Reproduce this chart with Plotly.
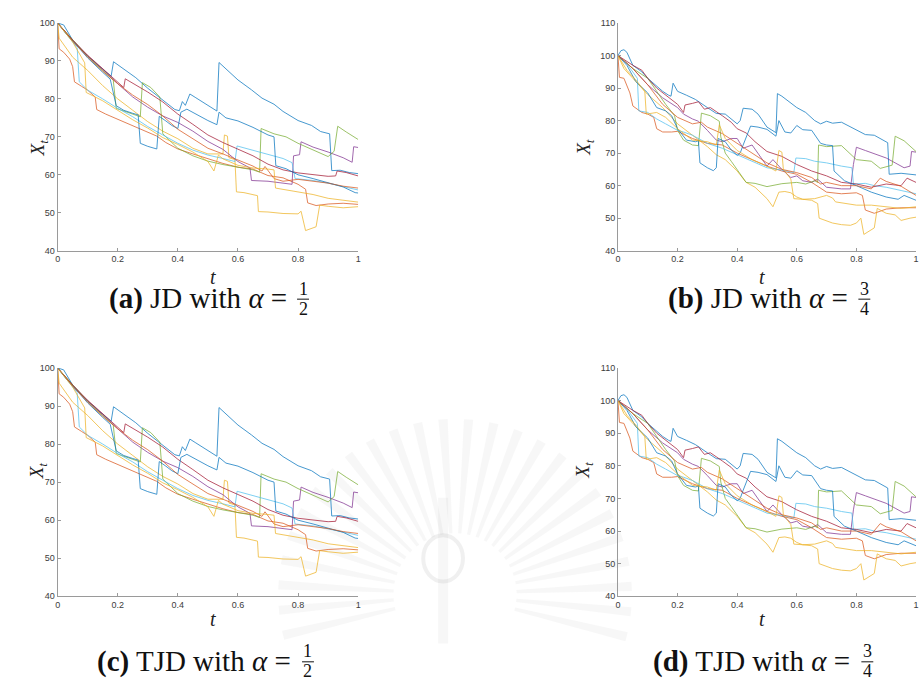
import math
import plotly.graph_objects as go

# MATLAB default colour order (10 paths per panel)
COLORS = ["#0072BD", "#D95319", "#EDB120", "#7E2F8E", "#77AC30",
          "#4DBEEE", "#A2142F", "#0072BD", "#D95319", "#EDB120"]

# ---------- alpha = 1/2 paths (panels a and c) ----------
half_t = [
    [0, 0.02, 0.05, 0.1, 0.15, 0.178, 0.186, 0.22, 0.26, 0.3, 0.35, 0.39, 0.405, 0.415, 0.425, 0.44, 0.46, 0.5, 0.53, 0.537, 0.56, 0.6, 0.645, 0.68, 0.72, 0.75, 0.8, 0.845, 0.875, 0.905, 0.912, 0.94, 0.97, 1.0],
    [0, 0.005, 0.02, 0.04, 0.05, 0.056, 0.08, 0.1, 0.125, 0.13, 0.16, 0.2, 0.25, 0.3, 0.33, 0.36, 0.4, 0.45, 0.5, 0.55, 0.6, 0.65, 0.7, 0.75, 0.8, 0.825, 0.832, 0.86, 0.9, 0.95, 1.0],
    [0, 0.005, 0.05, 0.1, 0.15, 0.2, 0.25, 0.3, 0.35, 0.4, 0.45, 0.5, 0.55, 0.555, 0.565, 0.57, 0.59, 0.595, 0.62, 0.65, 0.665, 0.668, 0.7, 0.75, 0.8, 0.81, 0.825, 0.86, 0.872, 0.9, 0.95, 1.0],
    [0, 0.05, 0.1, 0.15, 0.2, 0.25, 0.3, 0.35, 0.4, 0.45, 0.5, 0.55, 0.6, 0.64, 0.645, 0.7, 0.75, 0.78, 0.785, 0.805, 0.81, 0.85, 0.9, 0.95, 0.98, 0.985, 1.0],
    [0, 0.05, 0.1, 0.15, 0.185, 0.195, 0.22, 0.25, 0.275, 0.282, 0.31, 0.34, 0.35, 0.38, 0.4, 0.45, 0.5, 0.55, 0.6, 0.65, 0.672, 0.677, 0.72, 0.76, 0.8, 0.85, 0.9, 0.92, 0.932, 0.96, 1.0],
    [0, 0.03, 0.065, 0.072, 0.1, 0.15, 0.2, 0.25, 0.3, 0.35, 0.4, 0.45, 0.5, 0.55, 0.59, 0.597, 0.65, 0.7, 0.75, 0.78, 0.79, 0.85, 0.9, 0.95, 1.0],
    [0, 0.05, 0.1, 0.15, 0.2, 0.22, 0.225, 0.25, 0.3, 0.35, 0.4, 0.45, 0.5, 0.55, 0.6, 0.65, 0.7, 0.75, 0.8, 0.85, 0.9, 0.925, 0.93, 0.96, 1.0],
    [0, 0.03, 0.07, 0.1, 0.15, 0.175, 0.195, 0.22, 0.25, 0.268, 0.275, 0.3, 0.33, 0.338, 0.36, 0.38, 0.4, 0.41, 0.43, 0.46, 0.5, 0.53, 0.537, 0.56, 0.6, 0.65, 0.7, 0.72, 0.726, 0.76, 0.8, 0.85, 0.9, 0.95, 0.99, 1.0],
    [0, 0.05, 0.1, 0.15, 0.2, 0.25, 0.3, 0.35, 0.4, 0.45, 0.5, 0.55, 0.6, 0.65, 0.68, 0.69, 0.72, 0.75, 0.8, 0.85, 0.9, 0.95, 1.0],
    [0, 0.05, 0.09, 0.095, 0.15, 0.2, 0.25, 0.3, 0.35, 0.4, 0.45, 0.5, 0.52, 0.535, 0.55, 0.6, 0.65, 0.7, 0.72, 0.725, 0.8, 0.85, 0.9, 0.95, 1.0],
]
half_x = [
    [100, 99.5, 95.5, 91.3, 87.8, 86.0, 89.8, 87.8, 85.6, 82.8, 79.6, 77.2, 76.9, 79.3, 78.3, 81.3, 80.3, 78.4, 76.8, 89.6, 88.0, 85.0, 82.4, 80.2, 78.6, 76.7, 74.3, 73.0, 71.4, 70.8, 61.1, 61.2, 60.6, 60.3],
    [100, 93.2, 92.3, 90.5, 88.5, 84.5, 83.3, 82.3, 80.5, 77.2, 76.0, 74.6, 73.0, 71.2, 70.2, 68.5, 66.8, 65.5, 64.2, 63.0, 62.0, 61.5, 59.8, 59.2, 57.5, 56.2, 52.6, 51.9, 52.3, 52.5, 52.2],
    [100, 96, 91, 87.5, 83.5, 80, 77, 74, 71.5, 69.5, 67, 65.5, 65.5, 70.5, 70.2, 64.5, 64, 55.5, 55.3, 54.8, 54.5, 50.3, 50.2, 49.8, 49.7, 50.4, 45.3, 46.3, 52, 51.7, 51.3, 51.6],
    [100, 95.3, 91.3, 87.8, 84, 80.5, 77.8, 75.5, 73.8, 71.5, 68.8, 66.7, 63.5, 61.8, 58.5, 58.3, 57.8, 57.5, 65, 65.3, 68.7, 67.3, 66, 64.5, 63.3, 67.4, 67.2],
    [100, 95.5, 91.2, 87.5, 85, 77.5, 76.8, 75.8, 75.3, 84.3, 83, 80.5, 70.8, 68.5, 67, 65, 63.6, 62.7, 62, 61.3, 60.7, 72.2, 70.8, 70, 68.3, 66.5, 64.8, 66.2, 72.8, 71.3, 69.3],
    [100, 97, 93.5, 84.5, 82.3, 80, 77.5, 75.3, 72.7, 70.5, 68.3, 66.5, 65.2, 64.3, 63.5, 67.6, 66.5, 65.3, 64.3, 63.2, 59, 58.5, 57.8, 56.9, 56],
    [100, 95.5, 91.5, 88, 84.3, 83, 85.3, 84.2, 81.8, 79.2, 76, 73.3, 70.5, 68.5, 66.8, 65, 62.8, 61.3, 60.5, 60, 59.6, 59.7, 61.0, 60.6, 59.7],
    [100, 97, 93.5, 90.8, 87, 85.2, 78.2, 77, 76.2, 75.8, 68.3, 67.5, 66.8, 75.4, 74.2, 73, 72.2, 76.5, 77.3, 76, 74.3, 73.2, 76.5, 75, 74.2, 72.5, 70.5, 70, 62.4, 61.6, 60, 59, 58, 56.8, 55.3, 55.2],
    [100, 95.3, 91, 87.3, 84, 81, 78.5, 75.5, 72, 69.5, 67, 65.5, 64, 62.3, 61, 62.2, 59, 58.3, 58.8, 58.3, 57.8, 57, 56.5],
    [100, 95, 89.5, 81.7, 79.5, 77, 74.5, 72.3, 69.8, 68, 66, 63.5, 61, 65.2, 64.2, 62.5, 61.8, 61.5, 61.3, 56.5, 55.6, 54.8, 53.8, 53.2, 52.8],
]

# ---------- alpha = 3/4 paths (panels b and d) ----------
tq_t = [
    [0, 0.01, 0.02, 0.03, 0.05, 0.08, 0.1, 0.13, 0.15, 0.17, 0.178, 0.185, 0.2, 0.23, 0.26, 0.3, 0.33, 0.36, 0.38, 0.4, 0.41, 0.42, 0.45, 0.47, 0.5, 0.53, 0.535, 0.55, 0.6, 0.63, 0.66, 0.68, 0.7, 0.72, 0.75, 0.8, 0.83, 0.86, 0.88, 0.9, 0.905, 0.91, 0.95, 1.0],
    [0, 0.005, 0.02, 0.04, 0.05, 0.08, 0.1, 0.12, 0.13, 0.15, 0.18, 0.2, 0.25, 0.3, 0.35, 0.4, 0.45, 0.5, 0.55, 0.6, 0.65, 0.7, 0.75, 0.8, 0.82, 0.83, 0.86, 0.9, 0.95, 1.0],
    [0, 0.02, 0.05, 0.1, 0.15, 0.2, 0.25, 0.3, 0.33, 0.36, 0.4, 0.43, 0.46, 0.5, 0.52, 0.54, 0.56, 0.58, 0.6, 0.62, 0.65, 0.67, 0.675, 0.72, 0.75, 0.78, 0.8, 0.815, 0.825, 0.85, 0.86, 0.87, 0.9, 0.93, 0.95, 0.98, 1.0],
    [0, 0.05, 0.1, 0.15, 0.2, 0.22, 0.25, 0.27, 0.3, 0.33, 0.35, 0.38, 0.4, 0.42, 0.45, 0.5, 0.52, 0.55, 0.58, 0.6, 0.62, 0.65, 0.67, 0.7, 0.75, 0.78, 0.79, 0.8, 0.83, 0.86, 0.9, 0.93, 0.96, 0.98, 0.985, 1.0],
    [0, 0.05, 0.1, 0.13, 0.16, 0.19, 0.2, 0.22, 0.25, 0.27, 0.28, 0.31, 0.34, 0.345, 0.36, 0.38, 0.41, 0.43, 0.46, 0.5, 0.55, 0.6, 0.63, 0.66, 0.67, 0.673, 0.7, 0.75, 0.8, 0.85, 0.88, 0.91, 0.92, 0.93, 0.96, 1.0],
    [0, 0.03, 0.065, 0.07, 0.1, 0.13, 0.16, 0.2, 0.22, 0.25, 0.3, 0.35, 0.4, 0.45, 0.5, 0.55, 0.59, 0.597, 0.63, 0.66, 0.7, 0.75, 0.785, 0.79, 0.83, 0.86, 0.9, 0.95, 1.0],
    [0, 0.05, 0.08, 0.1, 0.13, 0.15, 0.2, 0.22, 0.225, 0.25, 0.27, 0.29, 0.31, 0.35, 0.38, 0.4, 0.43, 0.46, 0.5, 0.55, 0.6, 0.65, 0.7, 0.75, 0.8, 0.85, 0.9, 0.95, 0.97, 1.0],
    [0, 0.03, 0.06, 0.1, 0.13, 0.16, 0.18, 0.2, 0.23, 0.26, 0.27, 0.275, 0.3, 0.32, 0.33, 0.336, 0.36, 0.38, 0.4, 0.41, 0.42, 0.445, 0.47, 0.5, 0.53, 0.54, 0.56, 0.58, 0.6, 0.62, 0.65, 0.68, 0.7, 0.72, 0.725, 0.76, 0.8, 0.85, 0.9, 0.94, 0.96, 1.0],
    [0, 0.05, 0.1, 0.15, 0.2, 0.25, 0.28, 0.3, 0.35, 0.4, 0.45, 0.5, 0.55, 0.6, 0.65, 0.68, 0.7, 0.75, 0.8, 0.85, 0.88, 0.9, 0.95, 1.0],
    [0, 0.03, 0.06, 0.09, 0.095, 0.13, 0.16, 0.2, 0.25, 0.3, 0.33, 0.34, 0.36, 0.4, 0.45, 0.5, 0.53, 0.54, 0.55, 0.555, 0.58, 0.59, 0.62, 0.66, 0.7, 0.72, 0.73, 0.76, 0.8, 0.85, 0.9, 0.95, 1.0],
]
tq_x = [
    [100, 101.5, 101.8, 101, 97, 95, 93, 90.5, 89, 87.8, 87.5, 91.5, 89, 87.8, 86.5, 84, 82.2, 82, 80.5, 79, 80, 83.8, 83.5, 82, 78, 76.3, 88.3, 87.5, 84, 82.5, 80, 79, 79.8, 79.2, 79.5, 77, 75.7, 75.5, 74.5, 73.5, 73.2, 63.5, 63.8, 63.3],
    [100, 93.3, 93, 88.5, 84.5, 82.5, 82, 81, 77.5, 76.5, 76.5, 76.7, 74.5, 73, 72.5, 70, 68, 66, 64.5, 63.5, 61, 58, 57.5, 57.8, 57, 52.5, 51.5, 52.8, 53.2, 53.2],
    [100, 96, 93, 88, 84, 79, 75.5, 72, 69.5, 68, 64.5, 61, 59.5, 56, 53.5, 58, 58.2, 57.8, 56.5, 55.8, 55.5, 54.5, 50, 48.5, 48, 47.8, 48.5, 50, 45, 46.5, 47, 53, 51.5, 51, 49.3, 50, 50.3],
    [100, 96, 91, 87, 84, 82, 80.5, 79.8, 77, 74, 73.5, 74.5, 74.5, 71.5, 72.5, 66, 68, 65, 62.5, 63, 61.5, 61, 62, 59.5, 59, 59, 66.5, 71.8, 70.8, 69.8, 68.5, 67, 65.5, 66, 70.5, 70.3],
    [100, 96, 93, 89, 85, 81.5, 77, 74, 72.5, 72.3, 82.3, 81.5, 79.8, 75, 70, 67.5, 63.5, 61, 60.7, 59.7, 60.6, 61, 60.5, 61.5, 61, 72.5, 72, 72.3, 68, 67.5, 65.3, 66, 66.3, 75.2, 73.8, 70.5],
    [100, 97.5, 93, 83, 82.5, 80.5, 79, 77, 76.5, 75.5, 73, 71.5, 69.5, 67.5, 65.5, 64.8, 64, 68.5, 68.3, 67.5, 67, 66, 65.5, 60.5, 60.7, 60, 59.5, 58.5, 57.5],
    [100, 97, 95.5, 93, 90, 88.5, 85, 82.5, 84.8, 85.3, 85.8, 83.5, 84, 81.5, 79.5, 77.5, 76.2, 73.5, 70.5, 69, 66.5, 64.5, 63, 61, 60.5, 59.5, 60.5, 60, 62.3, 61],
    [100, 97, 92, 88.5, 84, 83, 81.5, 77.5, 74, 73.5, 73.8, 67, 65.5, 64.6, 65.5, 74.5, 73.5, 71, 69.3, 70, 72.5, 78.3, 78, 77.3, 75.2, 80, 76.5, 76.2, 78.5, 77.2, 77, 73, 72.5, 72.3, 64.5, 61.5, 60, 58, 56.5, 55.8, 57, 55.5],
    [100, 96, 91, 85, 81, 79, 79.5, 78, 76, 73, 70, 67, 65, 64, 62.5, 60.5, 61, 60, 60, 59, 62.3, 61.3, 59.8, 57],
    [100, 95.5, 92.5, 89, 82, 82.5, 81, 77.5, 74, 73.5, 72.5, 78.7, 74.5, 70.8, 68, 66, 64.5, 70.8, 70.3, 65, 62, 56, 55.8, 56, 57, 56.2, 55, 54.5, 54, 54, 53.5, 53, 53.5],
]

# tick labels
X_TICKS = [0, 0.2, 0.4, 0.6, 0.8, 1]
X_TICKTEXT = ["0", "0.2", "0.4", "0.6", "0.8", "1"]
Y_TICKS_HALF = [40, 50, 60, 70, 80, 90, 100]
Y_TICKS_TQ = [40, 50, 60, 70, 80, 90, 100, 110]

W, H = 920, 689

def px(x):
    return x / W

def py(y):
    return 1 - y / H

fig = go.Figure()

panels = [
    ("", half_t, half_x),
    ("2", tq_t, tq_x),
    ("3", half_t, half_x),
    ("4", tq_t, tq_x),
]
for suf, T, X in panels:
    for i, (tt, xx) in enumerate(zip(T, X)):
        fig.add_trace(go.Scatter(
            x=tt, y=xx, mode="lines",
            line=dict(color=COLORS[i], width=0.9),
            opacity=0.8,
            xaxis="x" + suf, yaxis="y" + suf,
            showlegend=False, hoverinfo="skip"))

axis_common = dict(showline=True, linecolor="#9a9a9a", linewidth=1,
                   ticks="inside", ticklen=3, tickcolor="#9a9a9a",
                   showgrid=False, zeroline=False,
                   tickfont=dict(family="Liberation Sans, Arial", size=9, color="#3c3c3c"))

xdom_left = [px(55), px(357.5)]
xdom_right = [px(619), px(919)]
ydom_top = [py(249.3), py(18.3)]
ydom_bot = [py(600), py(368.3)]

def xa(dom, anchor):
    return dict(domain=dom, range=[0, 1], tickvals=X_TICKS, ticktext=X_TICKTEXT,
                anchor=anchor, **axis_common)

def ya(dom, anchor, top, ticks):
    return dict(domain=dom, range=[40, top], tickvals=ticks, anchor=anchor, **axis_common)

fig.update_layout(
    width=W, height=H,
    margin=dict(l=0, r=0, t=0, b=0),
    paper_bgcolor="white", plot_bgcolor="rgba(0,0,0,0)",
    xaxis=xa(xdom_left, "y"), yaxis=ya(ydom_top, "x", 100, Y_TICKS_HALF),
    xaxis2=xa(xdom_right, "y2"), yaxis2=ya(ydom_top, "x2", 110, Y_TICKS_TQ),
    xaxis3=xa(xdom_left, "y3"), yaxis3=ya(ydom_bot, "x3", 100, Y_TICKS_HALF),
    xaxis4=xa(xdom_right, "y4"), yaxis4=ya(ydom_bot, "x4", 110, Y_TICKS_TQ),
)

SERIF = "Liberation Serif, DejaVu Serif, serif"
ann = []
shapes = []

# faint background watermark (rays of an emblem behind the lower captions)
CX, CY = 455, 598
for k in range(26):
    ang = math.radians(-14 + k * 8.3)
    r0, r1 = 62, 178
    half_w = math.radians(1.5)
    pts = [(CX + r0 * math.cos(ang - half_w), CY - r0 * math.sin(ang - half_w)),
           (CX + r1 * math.cos(ang - half_w), CY - r1 * math.sin(ang - half_w)),
           (CX + r1 * math.cos(ang + half_w), CY - r1 * math.sin(ang + half_w)),
           (CX + r0 * math.cos(ang + half_w), CY - r0 * math.sin(ang + half_w))]
    path = "M " + " L ".join(f"{px(a):.5f},{py(b):.5f}" for a, b in pts) + " Z"
    shapes.append(dict(type="path", xref="paper", yref="paper", path=path,
                       fillcolor="rgba(150,150,150,0.075)", line=dict(width=0),
                       layer="below"))
shapes.append(dict(type="circle", xref="paper", yref="paper",
                   x0=px(423), x1=px(463), y0=py(585), y1=py(538),
                   line=dict(color="rgba(150,150,150,0.14)", width=4), layer="below"))
shapes.append(dict(type="rect", xref="paper", yref="paper",
                   x0=px(438), x1=px(448), y0=py(648), y1=py(500),
                   fillcolor="rgba(150,150,150,0.08)", line=dict(width=0), layer="below"))

# axis titles
for xc, yc in [(22, 134), (585, 134), (22, 483), (585, 483)]:
    ann.append(dict(x=px(xc), y=py(yc), xref="paper", yref="paper",
                    text="<i>X</i><sub><i>t</i></sub>", showarrow=False, textangle=-90,
                    font=dict(family=SERIF, size=19, color="#222")))
for xc, yc in [(206, 276), (769, 276), (206, 636), (769, 636)]:
    ann.append(dict(x=px(xc), y=py(yc), xref="paper", yref="paper",
                    text="<i>t</i>", showarrow=False,
                    font=dict(family=SERIF, size=20, color="#222")))

# captions: (text, right end x of "=", fraction centre x, centre y, numerator, denominator)
captions = [
    ("<b>(a)</b> JD with <i>α</i> =", 288, 302, 298, "1", "2"),
    ("<b>(b)</b> JD with <i>α</i> =", 853, 867, 298, "3", "4"),
    ("<b>(c)</b> TJD with <i>α</i> =", 292, 307, 666, "1", "2"),
    ("<b>(d)</b> TJD with <i>α</i> =", 855, 870, 666, "3", "4"),
]
for text, xend, xf, yc, num, den in captions:
    ann.append(dict(x=px(xend), y=py(yc), xref="paper", yref="paper",
                    xanchor="right", yanchor="middle", text=text, showarrow=False,
                    font=dict(family=SERIF, size=29, color="#111")))
    ann.append(dict(x=px(xf), y=py(yc - 10), xref="paper", yref="paper",
                    xanchor="center", yanchor="middle", text=num, showarrow=False,
                    font=dict(family=SERIF, size=18, color="#111")))
    ann.append(dict(x=px(xf), y=py(yc + 10), xref="paper", yref="paper",
                    xanchor="center", yanchor="middle", text=den, showarrow=False,
                    font=dict(family=SERIF, size=18, color="#111")))
    shapes.append(dict(type="line", xref="paper", yref="paper",
                       x0=px(xf - 6), x1=px(xf + 6), y0=py(yc + 0.5), y1=py(yc + 0.5),
                       line=dict(color="#111", width=1)))

fig.update_layout(annotations=ann, shapes=shapes)
fig.write_html("out.html", config={"displayModeBar": False},
               post_script="document.body.style.margin='0px';document.body.style.padding='0px';")
